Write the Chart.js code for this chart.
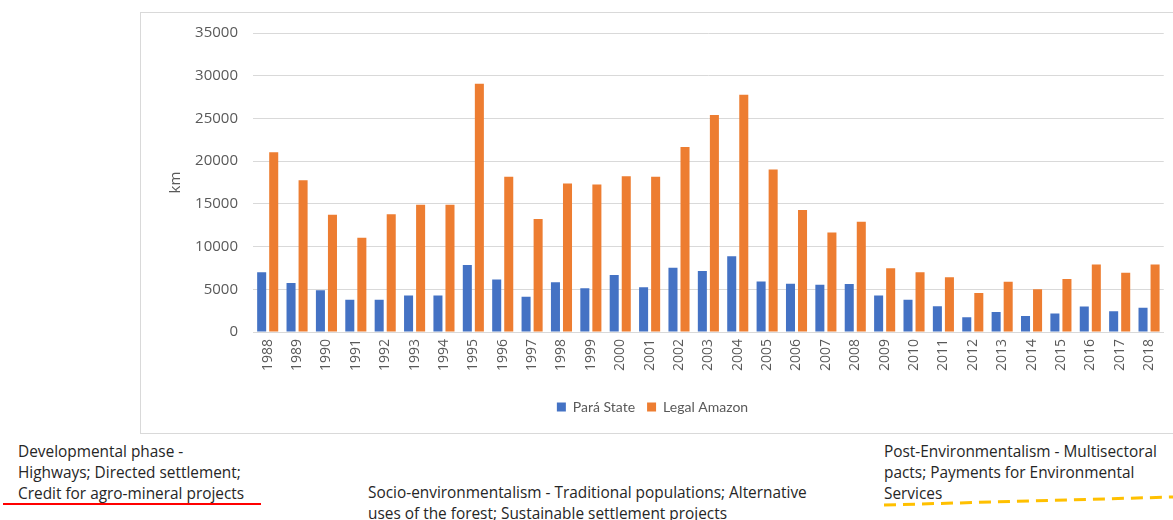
<!DOCTYPE html>
<html>
<head>
<meta charset="utf-8">
<script src="https://cdn.jsdelivr.net/npm/chart.js@4.4.1/dist/chart.umd.min.js"></script>
<style>
  html, body { margin: 0; padding: 0; background: #fff; width: 1173px; height: 520px; overflow: hidden; position: relative; }
  #box { position: absolute; left: 140px; top: 12px; width: 1045px; height: 422px; border: 1px solid #d9d9d9; box-sizing: border-box; }
  #wrap { position: absolute; left: 141px; top: 9px; width: 1032px; height: 424px; }
  .note { position: absolute; font-family: "Open Sans", sans-serif; font-size: 15.4px; color: #262626; line-height: 21px; white-space: nowrap; }
  svg { position: absolute; left: 0; top: 0; }
</style>
</head>
<body>
<div id="box"></div>
<div id="wrap"><canvas id="c" width="1032" height="424"></canvas></div>

<div class="note" style="left:18px; top:441px;">Developmental phase -<br>Highways; Directed settlement;<br>Credit for agro-mineral projects</div>
<div class="note" style="left:368px; top:482px;">Socio-environmentalism - Traditional populations; Alternative<br>uses of the forest; Sustainable settlement projects</div>
<div class="note" style="left:884px; top:441px;">Post-Environmentalism - Multisectoral<br>pacts; Payments for Environmental<br>Services</div>

<svg width="1173" height="520">
  <line x1="3" y1="504" x2="261" y2="504" stroke="#ff0000" stroke-width="2"/>
  <line x1="884" y1="505" x2="1173" y2="497" stroke="#ffc000" stroke-width="3" stroke-dasharray="12,7"/>
</svg>

<script>
const years = ['1988','1989','1990','1991','1992','1993','1994','1995','1996','1997','1998','1999','2000','2001','2002','2003','2004','2005','2006','2007','2008','2009','2010','2011','2012','2013','2014','2015','2016','2017','2018'];
const paraState = [6990,5750,4890,3780,3787,4284,4284,7845,6135,4139,5829,5111,6671,5237,7510,7145,8870,5899,5659,5526,5607,4281,3770,3008,1741,2346,1887,2153,2992,2433,2840];
const legalAmazon = [21050,17770,13730,11030,13786,14896,14896,29059,18161,13227,17383,17259,18226,18165,21651,25396,27772,19014,14286,11651,12911,7464,7000,6418,4571,5891,5012,6207,7893,6947,7900];
const yTicks = [0,5000,10000,15000,20000,25000,30000,35000];

const grey = '#595959';
new Chart(document.getElementById('c'), {
  type: 'bar',
  data: {
    labels: years,
    datasets: [
      { label: 'Pará State', data: paraState, backgroundColor: '#4472C4' },
      { label: 'Legal Amazon', data: legalAmazon, backgroundColor: '#ED7D31' }
    ]
  },
  options: {
    responsive: false,
    animation: false,
    devicePixelRatio: 1,
    categoryPercentage: 0.82,
    barPercentage: 0.75,
    layout: { padding: { top: 16, right: 9, left: 0, bottom: 9 } },
    plugins: {
      tooltip: { enabled: false },
      legend: {
        position: 'bottom',
        labels: { boxWidth: 9, boxHeight: 9, padding: 12, color: grey, font: { family: 'Lato, "Open Sans", sans-serif', size: 14 } }
      }
    },
    scales: {
      x: {
        grid: { display: false, drawTicks: false },
        border: { display: true, color: '#d9d9d9' },
        ticks: { minRotation: 90, maxRotation: 90, autoSkip: false, padding: 7, color: grey, font: { family: '"Open Sans", sans-serif', size: 14 } },
        afterFit: s => { s.height = 56; }
      },
      y: {
        min: 0, max: 35000,
        afterBuildTicks: s => { s.ticks = yTicks.map(v => ({ value: v })); },
        grid: { color: '#d9d9d9', drawTicks: false },
        border: { display: false },
        ticks: { padding: 15, color: grey, font: { family: '"Open Sans", sans-serif', size: 15 }, callback: v => String(v) },
        title: { display: true, text: 'km', color: grey, padding: { top: 26, bottom: 0 }, font: { family: '"Open Sans", sans-serif', size: 15 } },
        afterFit: s => { s.width = 112; }
      }
    }
  }
});
</script>
</body>
</html>
